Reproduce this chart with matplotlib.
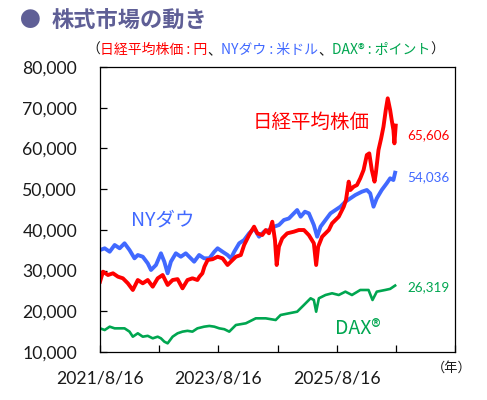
import pandas as pd
import matplotlib
matplotlib.use("Agg")
import matplotlib.pyplot as plt

plt.rcParams["font.family"] = ["Noto Sans CJK JP", "DejaVu Sans"]

RED = "#FF0000"
BLUE = "#4169FF"
GREEN = "#00A650"
TITLE = "#5F5F96"
INK = "#1a1a1a"

# time axis as decimal years
# Nikkei 225 (yen)
nk_t = [
    2021.622, 2021.672, 2021.757, 2021.841, 2021.925, 2022.009, 2022.093,
    2022.177, 2022.261, 2022.345, 2022.429, 2022.513, 2022.597, 2022.681,
    2022.765, 2022.849, 2022.933, 2023.017, 2023.101, 2023.185, 2023.269,
    2023.303, 2023.353, 2023.387, 2023.442, 2023.526, 2023.610, 2023.694,
    2023.778, 2023.835, 2023.919, 2024.003, 2024.059, 2024.143, 2024.227,
    2024.282, 2024.366, 2024.424, 2024.479, 2024.535, 2024.580, 2024.609,
    2024.647, 2024.703, 2024.787, 2024.899, 2024.983, 2025.067, 2025.151,
    2025.235, 2025.274, 2025.308, 2025.375, 2025.488, 2025.543, 2025.656,
    2025.740, 2025.778, 2025.824, 2025.852, 2025.908, 2025.963, 2026.020,
    2026.076, 2026.131, 2026.172, 2026.215, 2026.261, 2026.283, 2026.328,
    2026.373, 2026.412, 2026.451, 2026.484, 2026.525, 2026.551, 2026.580,
    2026.597, 2026.619,
]
nk_values = [
    27270, 29730, 28910, 29330, 28500, 28100, 26870,
    25230, 27680, 26870, 27680, 26040, 28100, 28910,
    26460, 27680, 27900, 25640, 27680, 28100, 27680,
    28500, 29330, 30950, 32600, 32800, 33400, 33000,
    31370, 32200, 33400, 33820, 36280, 38730, 40780,
    39150, 38730, 39960, 39150, 42000, 37510, 31370,
    35860, 37920, 39150, 39550, 39960, 39960, 38700,
    36700, 31370, 35860, 38320, 39960, 41600, 43230,
    45690, 47330, 51840, 49790, 50600, 51000, 52660,
    54700, 58380, 58790, 54700, 51840, 53890, 59610,
    62480, 65330, 69430, 72310, 69430, 66980, 64520,
    61250, 65606,
]

# NY Dow (USD)
dow_t = [
    2021.622, 2021.701, 2021.785, 2021.869, 2021.953, 2022.037, 2022.121,
    2022.205, 2022.261, 2022.345, 2022.429, 2022.484, 2022.568, 2022.652,
    2022.709, 2022.765, 2022.820, 2022.904, 2022.988, 2023.072, 2023.157,
    2023.214, 2023.298, 2023.382, 2023.471, 2023.555, 2023.610, 2023.694,
    2023.778, 2023.835, 2023.891, 2023.975, 2024.059, 2024.143, 2024.227,
    2024.311, 2024.395, 2024.479, 2024.563, 2024.647, 2024.731, 2024.815,
    2024.899, 2024.955, 2025.012, 2025.084, 2025.151, 2025.235, 2025.291,
    2025.348, 2025.432, 2025.516, 2025.600, 2025.684, 2025.768, 2025.852,
    2025.936, 2026.047, 2026.131, 2026.188, 2026.244, 2026.299, 2026.383,
    2026.467, 2026.525, 2026.580, 2026.609,
]
dow_values = [
    35050, 35470, 34630, 36280, 35470, 36700, 35050,
    33010, 33820, 33400, 31780, 30140, 31370, 34240,
    32180, 29330, 32180, 34240, 33400, 34240, 33010,
    32180, 33820, 33010, 33010, 34630, 35470, 34630,
    33820, 33010, 34630, 36700, 37510, 39150, 40380,
    38320, 39550, 39960, 40780, 41190, 42420, 42800,
    44050, 44870, 43230, 44460, 44050, 41190, 38320,
    40780, 42420, 44050, 44870, 45690, 46920, 47740,
    48560, 49370, 49790, 48970, 45690, 47740, 49790,
    51430, 52660, 52240, 54036,
]

# DAX (points)
dax_t = [
    2021.622, 2021.701, 2021.785, 2021.869, 2021.953, 2022.037, 2022.121,
    2022.177, 2022.261, 2022.345, 2022.429, 2022.513, 2022.597, 2022.652,
    2022.709, 2022.765, 2022.849, 2022.933, 2023.017, 2023.101, 2023.185,
    2023.269, 2023.382, 2023.471, 2023.555, 2023.639, 2023.723, 2023.807,
    2023.919, 2024.088, 2024.256, 2024.424, 2024.592, 2024.676, 2024.815,
    2024.955, 2025.067, 2025.180, 2025.235, 2025.274, 2025.320, 2025.432,
    2025.543, 2025.656, 2025.768, 2025.879, 2026.020, 2026.160, 2026.227,
    2026.299, 2026.440, 2026.525, 2026.609,
]
dax_values = [
    15810, 15400, 16220, 15810, 15810, 15810, 15000,
    13760, 14590, 13760, 13970, 13360, 13760, 13360,
    12540, 12130, 13760, 14590, 15000, 15200, 15000,
    15810, 16220, 16400, 16220, 15810, 15600, 15000,
    16630, 17050, 18270, 18270, 17860, 19090, 19500,
    19900, 21540, 23190, 22770, 19900, 23190, 24000,
    24420, 24000, 24820, 24000, 25230, 25230, 22770,
    24820, 25230, 25500, 26319,
]

x_ticks = ["2021-08-16", "2022-08-16", "2023-08-16", "2024-08-16",
           "2025-08-16", "2026-08-16", "2027-08-16"]
x_labels = ["2021/8/16", "", "2023/8/16", "", "2025/8/16", "", ""]
y_ticks = [10000, 20000, 30000, 40000, 50000, 60000, 70000, 80000]


def to_dates(years):
    out = []
    for y in years:
        yr = int(y)
        start = pd.Timestamp(f"{yr}-01-01")
        out.append(start + pd.Timedelta(days=(y - yr) * 365.25))
    return out


fig = plt.figure(figsize=(4.87, 4.0), dpi=100)
ax = fig.add_axes([100 / 487, 48 / 400, 355 / 487, 285 / 400])

ax.plot(to_dates(dax_t), dax_values, color=GREEN, lw=1.9,
        solid_joinstyle="round")
ax.plot(to_dates(dow_t), dow_values, color=BLUE, lw=2.8,
        solid_joinstyle="round")
ax.plot(to_dates(nk_t), nk_values, color=RED, lw=2.8,
        solid_joinstyle="round")

ax.set_xlim(pd.Timestamp("2021-08-16"), pd.Timestamp("2027-08-04"))
ax.set_ylim(10000, 80000)
ax.set_xticks(pd.to_datetime(x_ticks))
ax.set_xticklabels(x_labels)
ax.set_yticks(y_ticks)
ax.set_yticklabels([f"{v:,}" for v in y_ticks])
ax.tick_params(direction="in", length=5, width=0.9, colors="black")
ax.tick_params(axis="y", pad=16.5)
ax.tick_params(axis="x", pad=13)
for lab in ax.get_xticklabels() + ax.get_yticklabels():
    lab.set_fontfamily("Lato")
    lab.set_fontsize(12.7)
    lab.set_color(INK)
for s in ax.spines.values():
    s.set_linewidth(0.9)

# series name labels
ax.text(0.596, 0.807, "日経平均株価", transform=ax.transAxes, color=RED,
        fontsize=14, ha="center", va="center")
ax.text(0.176, 0.463, "NYダウ", transform=ax.transAxes, color=BLUE,
        fontsize=14, ha="center", va="center")
ax.text(0.725, 0.084, "DAX®", transform=ax.transAxes, color=GREEN,
        fontsize=14, ha="center", va="center")

# latest values
for val, yf, col in [(nk_values, 0.761, RED), (dow_values, 0.614, BLUE),
                     (dax_values, 0.228, GREEN)]:
    ax.text(0.865, yf, f"{val[-1]:,}", transform=ax.transAxes, color=col,
            fontsize=9.7, family="Lato", ha="left", va="center")

fig.text(452 / 487, 1 - 368 / 400, "（年）", fontsize=9.5, ha="center",
         va="center", color=INK)

# title
fig.text(20 / 487, 1 - 21 / 400, "●", fontsize=15, color=TITLE,
         ha="left", va="center")
fig.text(52 / 487, 1 - 21 / 400, "株式市場の動き", fontsize=16,
         fontweight="bold", color=TITLE, ha="left", va="center")

# unit note, multi-coloured pieces chained left to right
parts = [("（", INK), ("日経平均株価 : 円", RED), ("、", INK),
         ("NYダウ : 米ドル", BLUE), ("、", INK),
         ("DAX® : ポイント", GREEN), ("）", INK)]
t = fig.text(86 / 487, 1 - 50 / 400, parts[0][0], color=parts[0][1],
             fontsize=10, ha="left", va="center")
for txt, col in parts[1:]:
    t = ax.annotate(txt, xy=(1, 0), xycoords=t, color=col, fontsize=10,
                    ha="left", va="bottom", annotation_clip=False)

fig.savefig("out.png", dpi=100)
